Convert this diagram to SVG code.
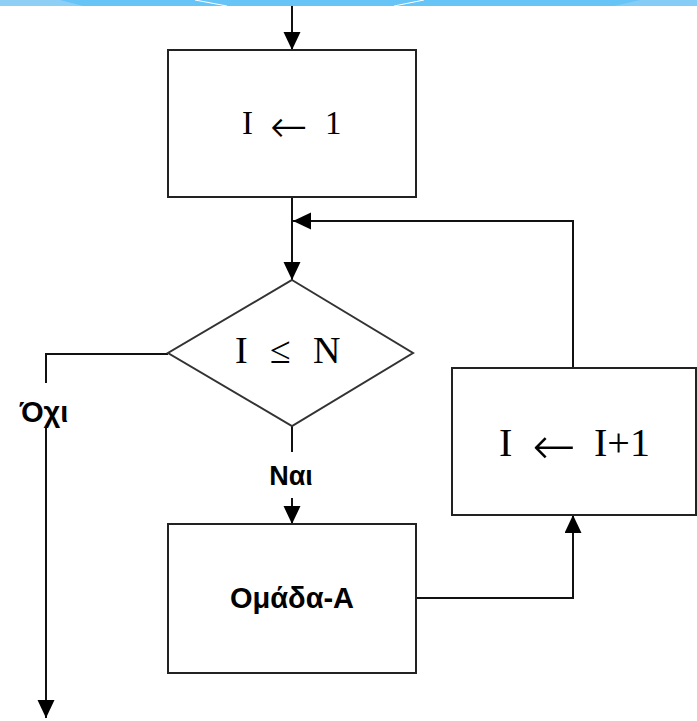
<svg xmlns="http://www.w3.org/2000/svg" width="697" height="721" viewBox="0 0 697 721">
<defs>
<marker id="ah" markerUnits="userSpaceOnUse" markerWidth="18" markerHeight="18" refX="18" refY="8.5" orient="auto">
<path d="M0,0 L18,8.5 L0,17 z" fill="#000"/>
</marker>
<style>
.box{fill:#fff;stroke:#222;stroke-width:2}
.ln{fill:none;stroke:#111;stroke-width:2}
.math{font-family:"Liberation Serif","Times New Roman",serif;fill:#000}
.arr{font-family:"DejaVu Sans",sans-serif;font-weight:300;fill:#000}
.lbl{font-family:"Liberation Sans",Arial,sans-serif;font-weight:bold;fill:#000;text-anchor:middle}
</style>
</defs>
<g id="banner">
<rect x="0" y="0" width="697" height="6" fill="#66c5f6"/>
<polygon points="0,0 60,0 83,6 0,6" fill="#8ecff6"/>
<polygon points="640,0 697,0 697,6 614,6" fill="#85ccf7"/>
<line x1="195" y1="0" x2="227" y2="6" stroke="#fff" stroke-width="1"/>
<line x1="394" y1="6" x2="424" y2="0" stroke="#fff" stroke-width="1"/>
</g>
<g id="connectors">
<line class="ln" x1="292" y1="6" x2="292" y2="50" marker-end="url(#ah)"/>
<line class="ln" x1="292" y1="197" x2="292" y2="280" marker-end="url(#ah)"/>
<polyline class="ln" points="573,368 573,221 293,221" marker-end="url(#ah)"/>
<polyline class="ln" points="168,354 46,354 46,383"/>
<line class="ln" x1="46" y1="428" x2="46" y2="718" marker-end="url(#ah)"/>
<line class="ln" x1="292" y1="426" x2="292" y2="452"/>
<line class="ln" x1="292" y1="498" x2="292" y2="524" marker-end="url(#ah)"/>
<polyline class="ln" points="416,598 573,598 573,515" marker-end="url(#ah)"/>
<text class="lbl" x="44" y="422" font-size="29">Όχι</text>
<text class="lbl" x="291" y="485" font-size="27">Ναι</text>
</g>
<g id="init">
<rect class="box" x="168" y="50" width="248" height="147"/>
<text class="math" y="134" font-size="33"><tspan x="242">I</tspan><tspan x="325">1</tspan></text>
<text class="arr" x="270" y="142" font-size="45">←</text>
</g>
<g id="cond">
<polygon points="292,280 413,353 292,426 168,353" fill="#fff" stroke="#333" stroke-width="2"/>
<text class="math" y="363" font-size="38"><tspan x="235">I</tspan><tspan x="270">≤</tspan><tspan x="313">N</tspan></text>
</g>
<g id="groupA">
<rect class="box" x="168" y="524" width="248" height="149"/>
<text class="lbl" x="292" y="608" font-size="29">Ομάδα-Α</text>
</g>
<g id="incr">
<rect class="box" x="452" y="368" width="244" height="147"/>
<text class="math" y="456" font-size="40"><tspan x="499">I</tspan><tspan x="594">I+1</tspan></text>
<text class="arr" x="532" y="464" font-size="52">←</text>
</g>
</svg>
